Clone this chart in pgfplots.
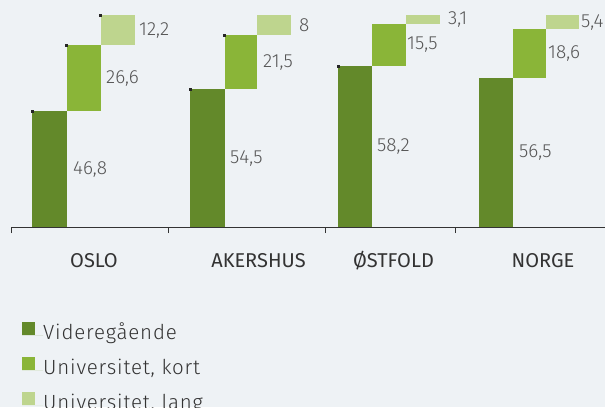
\documentclass[border=0pt]{standalone}
\usepackage{fontspec}
\setmainfont{Fira Sans}
\newfontfamily\lightfont{Fira Sans Light}
\usepackage{pgfplots}
\pgfplotsset{compat=1.18}
\definecolor{dg}{RGB}{99,137,42}
\definecolor{mg}{RGB}{138,181,56}
\definecolor{lg}{RGB}{190,213,142}
\definecolor{bgc}{RGB}{238,242,245}
\definecolor{txt}{RGB}{51,51,51}
\definecolor{vtxt}{RGB}{85,85,85}
\begin{document}
\begin{tikzpicture}
\path[use as bounding box, fill=bgc] (0,0) rectangle (605pt,407pt);
\begin{axis}[
  at={(11pt,180pt)}, anchor=south west,
  scale only axis, width=594pt, height=212pt,
  xmin=11, xmax=605, ymin=0, ymax=100,
  clip=false,
  axis x line=bottom, axis y line=none,
  axis line style={-, draw=txt, line width=1pt},
  xtick={11,168,325,455}, xticklabels={},
  xtick align=outside, major tick length=6pt,
  tick style={draw=txt, line width=1pt},
  legend style={at={(axis description cs:0,0)}, anchor=north west,
    xshift=11pt, yshift=-95pt, draw=none, fill=none, inner sep=0pt,
    font=\lightfont\fontsize{20.5pt}{20.5pt}\selectfont\addfontfeature{LetterSpace=4}, text=txt,
    row sep=12.5pt,
    nodes={inner sep=0pt, text height=14pt, text depth=5pt},
    cells={anchor=west}},
  legend image code/.code={\fill[#1] (0pt,0pt) rectangle (13pt,13pt); \path (0pt,0pt) -- (21pt,0pt);},
]
% Videregaende (share of total, %)
\addplot[fill=dg, draw=none, forget plot] coordinates {(32,0) (66.5,0) (66.5,54.67) (32,54.67)};
\addplot[fill=dg, draw=none, forget plot] coordinates {(190,0) (224.5,0) (224.5,64.88) (190,64.88)};
\addplot[fill=dg, draw=none, forget plot] coordinates {(338,0) (372,0) (372,75.78) (338,75.78)};
\addplot[fill=dg, draw=none, forget plot] coordinates {(479,0) (513,0) (513,70.19) (479,70.19)};
% Universitet, kort
\addplot[fill=mg, draw=none, forget plot] coordinates {(66.5,54.67) (100.5,54.67) (100.5,85.75) (66.5,85.75)};
\addplot[fill=mg, draw=none, forget plot] coordinates {(224.5,64.88) (256.5,64.88) (256.5,90.48) (224.5,90.48)};
\addplot[fill=mg, draw=none, forget plot] coordinates {(372,75.78) (405.5,75.78) (405.5,95.96) (372,95.96)};
\addplot[fill=mg, draw=none, forget plot] coordinates {(513,70.19) (545.5,70.19) (545.5,93.29) (513,93.29)};
% Universitet, lang
\addplot[fill=lg, draw=none, forget plot] coordinates {(100.5,85.75) (135,85.75) (135,100) (100.5,100)};
\addplot[fill=lg, draw=none, forget plot] coordinates {(256.5,90.48) (291,90.48) (291,100) (256.5,100)};
\addplot[fill=lg, draw=none, forget plot] coordinates {(405.5,95.96) (440,95.96) (440,100) (405.5,100)};
\addplot[fill=lg, draw=none, forget plot] coordinates {(545.5,93.29) (579,93.29) (579,100) (545.5,100)};
% small corner markers
\addplot[only marks, mark=square*, mark size=1pt, color=black!85, forget plot] coordinates {
  (32,54.67) (66.5,85.75) (100.5,100) (190,64.88) (224.5,90.48) (338,75.78)};
% value labels
\begin{scope}[every node/.style={anchor=west, font=\lightfont\fontsize{19pt}{19pt}\selectfont, text=vtxt, inner sep=0pt}]
\node at (axis cs:73,27.34) {46,8};
\node at (axis cs:106,70.21) {26,6};
\node at (axis cs:139,92.87) {12,2};
\node at (axis cs:230,32.44) {54,5};
\node at (axis cs:263,77.68) {21,5};
\node at (axis cs:299,95.24) {8};
\node at (axis cs:377,37.89) {58,2};
\node at (axis cs:407,85.87) {15,5};
\node at (axis cs:448,97.98) {3,1};
\node at (axis cs:519,35.09) {56,5};
\node at (axis cs:548,81.74) {18,6};
\node at (axis cs:581,96.65) {5,4};
\end{scope}
% category labels
\begin{scope}[every node/.style={anchor=base, font=\fontsize{20pt}{20pt}\selectfont, text=txt, inner sep=0pt, yshift=-40pt}]
\node at (axis cs:94,0) {OSLO};
\node at (axis cs:258.5,0) {AKERSHUS};
\node at (axis cs:393.5,0) {ØSTFOLD};
\node at (axis cs:543,0) {NORGE};
\end{scope}
\addlegendimage{fill=dg, draw=none}
\addlegendentry{Videregående}
\addlegendimage{fill=mg, draw=none}
\addlegendentry{Universitet, kort}
\addlegendimage{fill=lg, draw=none}
\addlegendentry{Universitet, lang}
\end{axis}
\end{tikzpicture}
\end{document}
